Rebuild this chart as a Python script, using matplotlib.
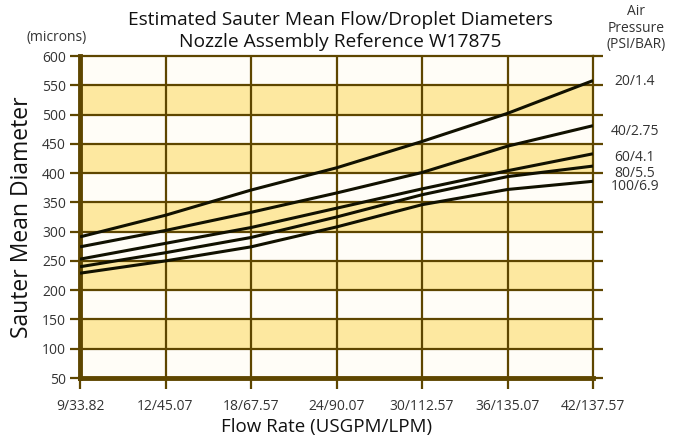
import matplotlib
matplotlib.use("Agg")
import matplotlib.pyplot as plt
import numpy as np

plt.rcParams['font.family'] = ['Open Sans', 'DejaVu Sans']

flow_labels = ["9/33.82", "12/45.07", "18/67.57", "24/90.07", "30/112.57", "36/135.07", "42/137.57"]
series_names = ["20/1.4", "40/2.75", "60/4.1", "80/5.5", "100/6.9"]
s20 = [291, 328, 371, 409, 454, 502, 558]
s40 = [274, 302, 333, 366, 401, 446, 481]
s60 = [253, 280, 307, 340, 373, 404, 433]
s80 = [240, 264, 290, 325, 363, 394, 412]
s100 = [229, 250, 274, 308, 346, 372, 386]
y_ticks = [50, 100, 150, 200, 250, 300, 350, 400, 450, 500, 550, 600]

series = [s20, s40, s60, s80, s100]
label_offsets = [-1, -4, -3, -5, -4]

brown = "#5e4600"
band = "#fde8a0"
white = "#fffdf7"
txt = "#333333"

fig = plt.figure(figsize=(6.79, 4.41), dpi=100)
fig.patch.set_facecolor("white")
ax = fig.add_axes([80/679, 1-378/441, (593-80)/679, (378-56)/441])
ax.set_facecolor(white)

x = np.arange(len(flow_labels))
ax.set_xlim(0, len(flow_labels)-1)
ax.set_ylim(50, 600)

# alternating bands
for i in range(len(y_ticks)-1):
    lo, hi = y_ticks[i], y_ticks[i+1]
    if i % 2 == 1:
        ax.axhspan(lo, hi, color=band, zorder=0, lw=0)

for yv in y_ticks[1:-1]:
    ax.axhline(yv, color=brown, lw=1.6, zorder=1)
for xv in x[1:-1]:
    ax.axvline(xv, color=brown, lw=1.6, zorder=1)

for s in series:
    ax.plot(x, s, color="#111100", lw=2.2, zorder=3, solid_capstyle="butt")

for name, s, off in zip(series_names, series, label_offsets):
    ax.annotate(name, xy=(1.0, s[-1]), xycoords=("axes fraction", "data"),
                xytext=(30, off), textcoords="offset points",
                ha="center", va="center", fontsize=10, color=txt)

ax.set_xticks(x)
ax.set_xticklabels(flow_labels, fontsize=10, color=txt)
ax.set_yticks(y_ticks)
ax.set_yticklabels([str(v) for v in y_ticks], fontsize=10, color=txt)
ax.tick_params(axis="x", length=8, width=1.6, color=brown, pad=7)
ax.tick_params(axis="y", length=7, width=1.6, color=brown, pad=3, right=True)

for side in ["top", "right"]:
    ax.spines[side].set_color(brown)
    ax.spines[side].set_linewidth(1.6)
ax.spines["left"].set_color(brown)
ax.spines["left"].set_linewidth(3.5)
ax.spines["bottom"].set_color(brown)
ax.spines["bottom"].set_linewidth(3.5)

fig.text(327/679, 1-427/441, "Flow Rate (USGPM/LPM)", ha="center", va="center",
         fontsize=13.5, color="#111111")
ax.set_ylabel("Sauter Mean Diameter", fontsize=16.5, color="#111111", labelpad=6)

fig.text(340/679, 1-20/441, "Estimated Sauter Mean Flow/Droplet Diameters",
         ha="center", va="center", fontsize=13.8, color="#111111")
fig.text(340/679, 1-42/441, "Nozzle Assembly Reference W17875",
         ha="center", va="center", fontsize=13.8, color="#111111")
fig.text(57/679, 1-37/441, "(microns)", ha="center", va="center", fontsize=10, color=txt)
fig.text(636/679, 1-28/441, "Air\nPressure\n(PSI/BAR)", ha="center", va="center",
         fontsize=10, color=txt, linespacing=1.15)

fig.savefig("out.png", dpi=100)
